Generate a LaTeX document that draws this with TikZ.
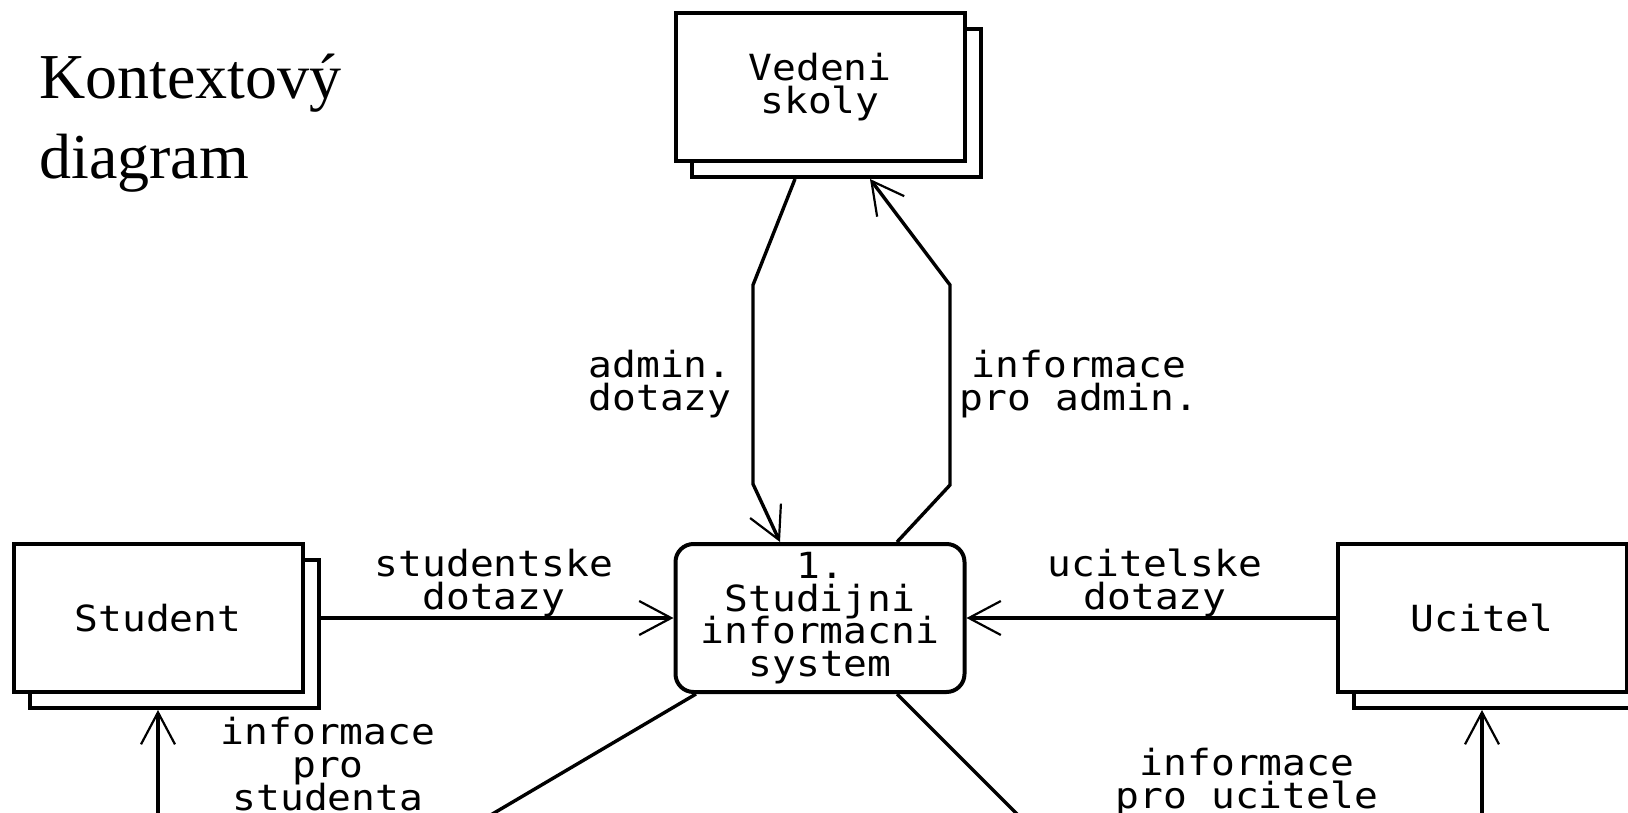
\documentclass[tikz,border=0pt]{standalone}
\usepackage{fontspec}
\newfontfamily\dfdfont[FakeStretch=1.1]{DejaVu Sans Mono}
\newfontfamily\titlefont{Liberation Serif}
\usetikzlibrary{arrows.meta,calc}
% monospaced diagram lettering with a fixed line pitch
\newcommand\dfdsetup{\dfdfont\fontsize{18pt}{16.3pt}\selectfont\lineskiplimit-50pt\relax}

\begin{document}
\begin{tikzpicture}[x=0.5pt,y=-0.5pt,
  dfdtext/.style={font=\dfdsetup},
  box/.style={draw, line width=2pt, fill=white, minimum width=144.5pt,
    minimum height=74pt, inner sep=0pt, align=center, dfdtext},
  entity/.style={box},
  entityback/.style={box},
  process/.style={box, rounded corners=9pt},
  link/.style={line width=1.7pt},
  flow/.style={link, -{Straight Barb[length=16pt,width=17pt,line width=1.1pt]}},
  lbl/.style={align=center, inner sep=0pt, dfdtext}
]
\useasboundingbox (0,0) rectangle (1628,813);
\clip (0,0) rectangle (1628,813);

% title
\node[anchor=north west, inner sep=0pt, align=left,
      font=\titlefont\fontsize{32pt}{40pt}\selectfont] (title) at (39,54)
  {Kontextový\\diagram};

% external entities: a back copy and the front box
\node[entityback] (vedeniB)  at (836,103) {};
\node[entity]     (vedeni)   at (820,87)  {Vedeni\\skoly};
\node[entityback] (studentB) at (174,634) {};
\node[entity]     (student)  at (158,618) {Student};
\node[entityback] (ucitelB)  at (1498,634) {};
\node[entity]     (ucitel)   at (1482,618) {Ucitel};

% the process
\node[process] (proc) at (820,618) {1.\\Studijni\\informacni\\system};

% off-page ends of the lower flows
\coordinate (sIn)  at (158,830);
\coordinate (uIn)  at (1482,830);
\coordinate (lOut) at (472,826);
\coordinate (rOut) at (1029,826);

% flows between the administration and the process
\draw[flow] ($(vedeniB.south)+(-41,0)$) -- (753,285) -- (753,484)
  -- ($(proc.north)+(-40,0)$);
\draw[flow] ($(proc.north)+(77,0)$) -- (950,485) -- (950,285)
  -- ($(vedeniB.south)+(34,0)$);

% horizontal flows
\draw[flow] (student.east -| studentB.east) -- (proc.west);
\draw[flow] (ucitel.west) -- (proc.east);

% flows back to student and teacher
\draw[flow] (sIn) -- (sIn |- studentB.south);
\draw[flow] (uIn) -- (uIn |- ucitelB.south);

% flows leaving the lower edge
\draw[link] ($(proc.south)+(-124,0)$) -- (lOut);
\draw[link] ($(proc.south)+(77,0)$) -- (rOut);

% labels
\node[lbl] (l1) at (660,384)  {admin.\\dotazy};
\node[lbl] (l2) at (1079,384) {informace\\pro admin.};
\node[lbl] (l3) at (494,583)  {studentske\\dotazy};
\node[lbl] (l4) at (1155,583) {ucitelske\\dotazy};
\node[lbl] (l5) at (328,764)  {informace\\pro\\studenta};
\node[lbl] (l6) at (1247,782) {informace\\pro ucitele};
\end{tikzpicture}
\end{document}
